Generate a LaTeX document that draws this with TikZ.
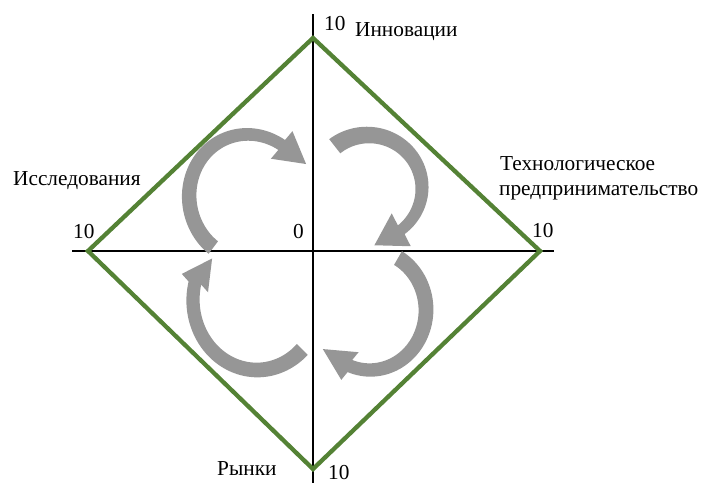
\documentclass[tikz,border=0pt]{standalone}
\usepackage{fontspec}
\setmainfont{Liberation Serif}
\definecolor{dgreen}{RGB}{84,130,53}
\definecolor{agray}{RGB}{150,150,150}

\pgfkeys{/ba/.cd,
 cx/.store in=\bacx, cy/.store in=\bacy,
 rxa/.store in=\barxa, rxb/.store in=\barxb,
 rya/.store in=\barya, ryb/.store in=\baryb,
 ta/.store in=\bata, tb/.store in=\batb,
 wa/.store in=\bawa, wb/.store in=\bawb,
 hw/.store in=\bahw, hl/.store in=\bahl, hd/.store in=\bahd}

\newcommand{\bentarrow}[2][]{%
 \pgfkeys{/ba/.cd,#2}%
 \pgfmathsetmacro{\bBx}{\bacx+\barxb*cos(\batb)}%
 \pgfmathsetmacro{\bBy}{\bacy+\baryb*sin(\batb)}%
 \pgfmathsetmacro{\bOx}{\bBx+\bahw*sin(\bahd)}%
 \pgfmathsetmacro{\bOy}{\bBy-\bahw*cos(\bahd)}%
 \pgfmathsetmacro{\bIx}{\bBx-\bahw*sin(\bahd)}%
 \pgfmathsetmacro{\bIy}{\bBy+\bahw*cos(\bahd)}%
 \pgfmathsetmacro{\bTx}{\bBx+\bahl*cos(\bahd)}%
 \pgfmathsetmacro{\bTy}{\bBy+\bahl*sin(\bahd)}%
 \fill[arrowfill,#1] plot[domain=\bata:\batb,samples=60,variable=\t]
   ({\bacx+(\barxa+(\barxb-\barxa)*(\t-\bata)/(\batb-\bata)+\bawa+(\bawb-\bawa)*(\t-\bata)/(\batb-\bata))*cos(\t)},
    {\bacy+(\barya+(\baryb-\barya)*(\t-\bata)/(\batb-\bata)+\bawa+(\bawb-\bawa)*(\t-\bata)/(\batb-\bata))*sin(\t)})
   -- (\bOx,\bOy) -- (\bTx,\bTy) -- (\bIx,\bIy)
   -- plot[domain=\batb:\bata,samples=60,variable=\t]
   ({\bacx+(\barxa+(\barxb-\barxa)*(\t-\bata)/(\batb-\bata)-\bawa-(\bawb-\bawa)*(\t-\bata)/(\batb-\bata))*cos(\t)},
    {\bacy+(\barya+(\baryb-\barya)*(\t-\bata)/(\batb-\bata)-\bawa-(\bawb-\bawa)*(\t-\bata)/(\batb-\bata))*sin(\t)})
   -- cycle;}

\begin{document}
\begin{tikzpicture}[x=1pt,y=-1pt,
  arrowfill/.style={fill=agray},
  lab/.style={font=\fontsize{21.3}{25}\selectfont, inner sep=0pt, anchor=base west},
  axisline/.style={line width=1.9pt, black},
  rhomb/.style={draw=dgreen, line width=4.3pt, line join=miter}]
\useasboundingbox (0,0) rectangle (702,483);
% axes
\coordinate (axT) at (313,14);
\coordinate (axB) at (313,483);
\coordinate (axL) at (72,251);
\coordinate (axR) at (554,251);
\draw[axisline] (axL) -- (axR);
\draw[axisline] (axT) -- (axB);
% diamond
\coordinate (vT) at (313,38);
\coordinate (vR) at (540,251);
\coordinate (vB) at (313,469);
\coordinate (vL) at (88,251);
\draw[rhomb] (vT) -- (vR) -- (vB) -- (vL) -- cycle;
% curved arrows
\bentarrow{cx=247,cy=198,rxa=56,rxb=62,rya=62,ryb=64,ta=127,tb=304,wa=7.8,wb=6,hw=17.5,hl=31,hd=38}
\bentarrow{cx=368,cy=188,rxa=54,rxb=54,rya=53,ryb=53,ta=232,tb=412,wa=9,wb=5.5,hw=19,hl=31,hd=150}
\bentarrow{cx=370,cy=310,rxa=56,rxb=56,rya=60,ryb=60,ta=300,tb=471,wa=7.9,wb=6.5,hw=16.3,hl=32,hd=212}
\bentarrow{cx=257,cy=300,rxa=64,rxb=64,rya=70,ryb=70,ta=45,tb=194,wa=7.7,wb=6.5,hw=16,hl=30,hd=305}
% labels
\node[lab] (innov) at (355,36.7) {Инновации};
\node[lab] (tech1) at (500,170.7) {Технологическое};
\node[lab] (tech2) at (499,195) {предпринимательство};
\node[lab] (issl) at (13,185) {Исследования};
\node[lab] (rynki) at (217,475) {Рынки};
\node[lab] (nT) at (324,30.7) {10};
\node[lab] (nB) at (328,479.5) {10};
\node[lab] (nL) at (73,238) {10};
\node[lab] (nO) at (293,238) {0};
\node[lab] (nR) at (532,237) {10};
\end{tikzpicture}
\end{document}
